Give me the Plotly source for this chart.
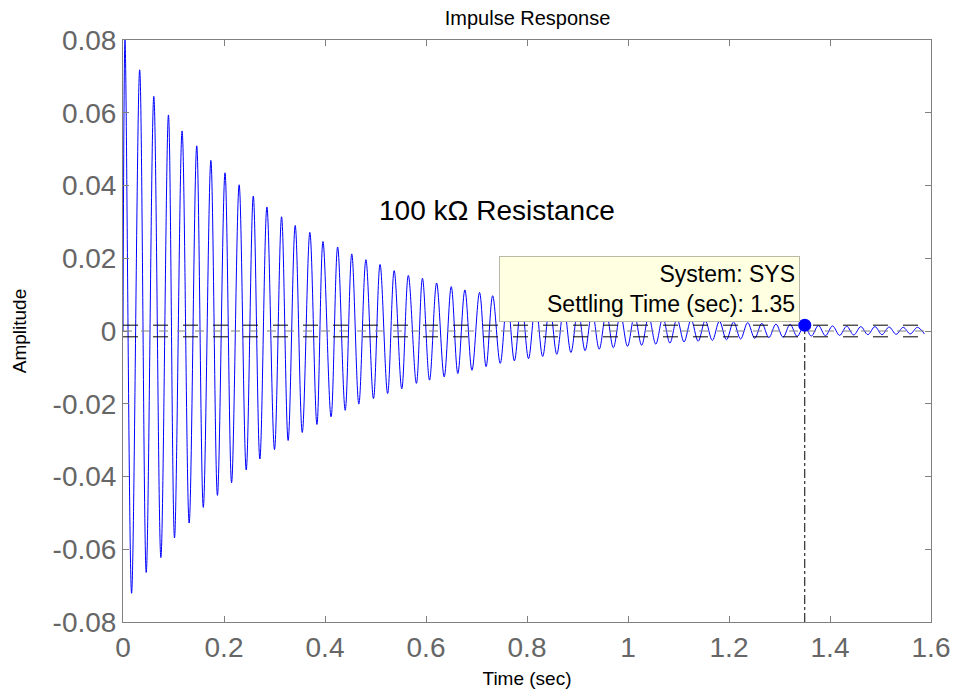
import plotly.graph_objects as go

# Local maxima of the impulse response (time in s, amplitude)
max_t = [0.004, 0.033, 0.061, 0.090, 0.117, 0.146, 0.174, 0.202, 0.230, 0.258,
         0.285, 0.314, 0.341, 0.370, 0.396, 0.425, 0.453, 0.481, 0.509, 0.537,
         0.565, 0.593, 0.621, 0.650, 0.677, 0.706, 0.732, 0.761, 0.789, 0.817,
         0.845, 0.873, 0.901, 0.929, 0.957, 0.985, 1.013, 1.041, 1.069, 1.097,
         1.125, 1.153, 1.181, 1.209, 1.237, 1.265, 1.293, 1.321, 1.349, 1.377,
         1.405, 1.433, 1.461, 1.489, 1.517, 1.545, 1.573]
max_v = [0.0800, 0.0718, 0.0645, 0.0594, 0.0550, 0.0509, 0.0469, 0.0435, 0.0402, 0.0371,
         0.0341, 0.0314, 0.0290, 0.0271, 0.0246, 0.0231, 0.0212, 0.0196, 0.0183, 0.0166,
         0.0153, 0.0145, 0.0132, 0.0122, 0.0113, 0.0106, 0.0097, 0.0091, 0.0083, 0.0077,
         0.0070, 0.0065, 0.0060, 0.0055, 0.0051, 0.0047, 0.0043, 0.0040, 0.0037, 0.0034,
         0.0031, 0.0029, 0.0027, 0.0025, 0.0023, 0.0021, 0.0019, 0.0018, 0.0016, 0.0015,
         0.0014, 0.0013, 0.0012, 0.0012, 0.0011, 0.0010, 0.0010]

# Local minima of the impulse response
min_t = [0.017, 0.046, 0.075, 0.102, 0.131, 0.159, 0.187, 0.215, 0.244, 0.271,
         0.300, 0.327, 0.355, 0.384, 0.412, 0.440, 0.467, 0.496, 0.524, 0.552,
         0.581, 0.607, 0.636, 0.663, 0.691, 0.719, 0.747, 0.775, 0.803, 0.831,
         0.859, 0.887, 0.915, 0.943, 0.971, 0.999, 1.027, 1.055, 1.083, 1.111,
         1.139, 1.167, 1.195, 1.223, 1.251, 1.279, 1.307, 1.335, 1.363, 1.391,
         1.419, 1.447, 1.475, 1.503, 1.531, 1.559, 1.587]
min_v = [-0.0721, -0.0664, -0.0623, -0.0569, -0.0528, -0.0485, -0.0452, -0.0417, -0.0382, -0.0352,
         -0.0326, -0.0301, -0.0279, -0.0257, -0.0236, -0.0218, -0.0201, -0.0186, -0.0172, -0.0159,
         -0.0144, -0.0135, -0.0126, -0.0117, -0.0108, -0.0098, -0.0089, -0.0082, -0.0076, -0.0070,
         -0.0064, -0.0059, -0.0054, -0.0050, -0.0046, -0.0042, -0.0039, -0.0036, -0.0033, -0.0030,
         -0.0028, -0.0026, -0.0024, -0.0022, -0.0020, -0.0018, -0.0017, -0.0015, -0.0014, -0.0013,
         -0.0012, -0.0011, -0.0010, -0.0010, -0.0009, -0.0008, -0.0008]

start_t = [0.0]
start_v = [0.0]

settling_time = 1.35
settling_band = 0.0016

x_ticks = [0, 0.2, 0.4, 0.6, 0.8, 1.0, 1.2, 1.4, 1.6]
x_tick_labels = ["0", "0.2", "0.4", "0.6", "0.8", "1", "1.2", "1.4", "1.6"]
y_ticks = [-0.08, -0.06, -0.04, -0.02, 0, 0.02, 0.04, 0.06, 0.08]
y_tick_labels = ["-0.08", "-0.06", "-0.04", "-0.02", "0", "0.02", "0.04", "0.06", "0.08"]

pts = sorted(zip(start_t + max_t + min_t, start_v + max_v + min_v))
sig_t = [p[0] for p in pts]
sig_v = [p[1] for p in pts]

FONT = "Liberation Sans, Arial, sans-serif"

fig = go.Figure()
fig.add_trace(go.Scatter(x=sig_t, y=sig_v, mode="lines",
                         line=dict(color="#0000FF", width=1, shape="spline", smoothing=1.0),
                         hoverinfo="skip"))
# zero line
fig.add_trace(go.Scatter(x=[0, 1.6], y=[0, 0], mode="lines",
                         line=dict(color="#808080", width=1, dash="dash")))
# settling band
fig.add_trace(go.Scatter(x=[0, 1.6], y=[settling_band, settling_band], mode="lines",
                         line=dict(color="black", width=1, dash="longdash")))
fig.add_trace(go.Scatter(x=[0, 1.6], y=[-settling_band, -settling_band], mode="lines",
                         line=dict(color="black", width=1, dash="longdash")))
# settling time marker
fig.add_trace(go.Scatter(x=[settling_time, settling_time], y=[-0.08, settling_band], mode="lines",
                         line=dict(color="black", width=1, dash="dashdot")))
fig.add_trace(go.Scatter(x=[settling_time], y=[settling_band], mode="markers",
                         marker=dict(color="#0000FF", size=13)))

fig.add_annotation(x=0.74, y=0.033, xref="x", yref="y", text="100 kΩ Resistance",
                   showarrow=False, font=dict(family=FONT, size=28, color="black"))
fig.add_annotation(x=1.341, y=0.0024, xref="x", yref="y", xanchor="right", yanchor="bottom",
                   text="System: SYS<br>Settling Time (sec): 1.35", align="right",
                   showarrow=False, bgcolor="#FFFFE1", bordercolor="#B8B8A8", borderwidth=1,
                   borderpad=4, width=291,
                   font=dict(family=FONT, size=23, color="black"))

axis_common = dict(showgrid=False, zeroline=False, showline=True, linecolor="#808080",
                   linewidth=1, mirror="ticks", ticks="inside", ticklen=6, tickcolor="#808080",
                   automargin=False,
                   tickfont=dict(family=FONT, size=28, color="#666666"))

fig.update_layout(
    width=954, height=692,
    margin=dict(l=123, r=23, t=40, b=70),
    paper_bgcolor="white", plot_bgcolor="white",
    showlegend=False,
    title=dict(text="Impulse Response", x=0.553, xanchor="center", y=0.984, yanchor="top",
               font=dict(family=FONT, size=20, color="black")),
    xaxis=dict(range=[0, 1.6], tickvals=x_ticks, ticktext=x_tick_labels,
               title=dict(text="Time (sec)", font=dict(family=FONT, size=19, color="black"), standoff=10),
               **axis_common),
    yaxis=dict(range=[-0.08, 0.08], tickvals=y_ticks, ticktext=y_tick_labels,
               title=dict(text="Amplitude", font=dict(family=FONT, size=19, color="black"), standoff=20),
               **axis_common),
)

fig.write_html("out.html",
               config={"displayModeBar": False},
               post_script="document.body.style.margin='0';document.body.style.overflow='hidden';")
